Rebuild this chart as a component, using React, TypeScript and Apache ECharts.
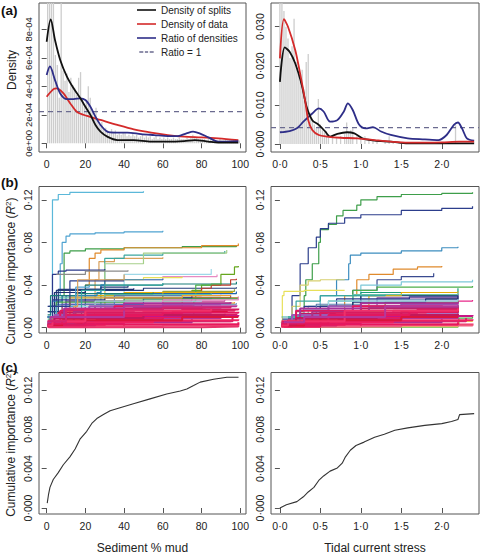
import React, { useEffect, useRef } from "react";
import * as echarts from "echarts";

const FONT = '"Liberation Sans", Arial, Helvetica, sans-serif';
const DOT = "\u00B7";

// ---------- Panel (a) left: sediment % mud (densities in units of 1e-4) ----------
const histMudHeights = [
  12, 12, 12, 12, 6.2, 5.5, 3.2, 12, 5.1, 4.4, 4.9, 3.6, 4.6, 4.1, 3.9, 3.4, 4.6, 5.0, 3.1, 2.6,
  2.9, 4.0, 3.2, 2.3, 1.9, 2.5, 1.6, 1.3, 1.5, 1.0, 1.1, 0.9, 0.8, 1.0, 0.7, 0.9, 0.6, 0.7, 0.6, 0.8,
  0.7, 0.5, 0.6, 0.5, 0.7, 0.5, 0.6, 0.4, 0.5, 0.6, 0.4, 0.5, 0.4, 0.5, 0.3, 0.4, 0.5, 0.3, 0.4, 0.3,
  0.4, 0.3, 0.4, 0.3, 0.3, 0.4, 0.3, 0.3, 0.4, 0.3, 0.3, 0.3, 0.4, 0.3, 0.5, 0.6, 0.5, 0.4, 0.3, 0.3,
  0.3, 0.3, 0.2, 0.3, 0.3, 0.2, 0.3, 0.2, 0.2, 0.3, 0.2, 0.2, 0.3, 0.2, 0.2, 0.2, 0.3, 0.2, 0.2, 0.2,
];
const mudSplits = [[0, 7.13], [2.1, 8.7], [4.3, 7.25], [7, 5.85], [10.4, 4.7], [13.9, 3.86], [17.4, 3.16], [20, 2.57], [22.6, 2.0], [25.2, 1.29], [27.8, 0.82], [31.3, 0.47], [36.5, 0.23], [45, 0.23], [54, 0.12], [62.6, 0.12], [71, 0.16], [76.5, 0.23], [83.5, 0.12], [88.7, 0.05], [99, 0.05]];
const mudData = [[0, 3.27], [3.5, 3.8], [5.2, 3.86], [8.7, 3.5], [12.2, 2.8], [15.7, 2.2], [20.9, 1.92], [27.8, 1.64], [36.5, 1.29], [45, 0.98], [54, 0.75], [62.6, 0.58], [71, 0.47], [80, 0.42], [88.7, 0.35], [99, 0.23]];
const mudRatio = [[0, 4.8], [1.7, 5.4], [4.3, 4.44], [7, 3.5], [10.4, 3.1], [13.9, 3.1], [17.4, 3.16], [20, 3.04], [22.6, 2.57], [25.2, 1.87], [27.8, 1.29], [31.3, 0.82], [35.6, 0.75], [41.7, 0.75], [48.7, 0.65], [55.6, 0.58], [62.6, 0.51], [67.8, 0.51], [72.2, 0.7], [75.6, 0.82], [79, 0.7], [83.5, 0.42], [88.7, 0.12], [99, 0.16]];
const mudRatioOne = 2.22;

// ---------- Panel (a) right: tidal current stress (densities in units of 1e-3) ----------
const histTideX = [0.0, 0.025, 0.05, 0.075, 0.1, 0.125, 0.15, 0.175, 0.2, 0.225, 0.25, 0.275, 0.3, 0.325, 0.35, 0.375, 0.4, 0.425, 0.45, 0.475, 0.5, 0.525, 0.55, 0.575, 0.6, 0.65, 0.7, 0.75, 0.8, 0.825, 0.85, 0.875, 0.9, 0.95, 1.0, 1.05, 1.1, 1.15, 1.2, 1.3, 1.35, 1.4, 1.5, 1.6, 1.75, 1.9, 2.0, 2.17, 2.3];
const histTideHeights = [40, 38, 34, 30, 27, 22, 25, 32, 21, 18, 16, 19, 14, 21, 23, 8, 6, 5, 4, 11.5, 5, 3.5, 3, 2.5, 2.5, 2, 1.5, 2, 2.5, 5.5, 3, 3.5, 4, 2, 1.5, 2, 1.2, 1, 0.8, 0.8, 2, 0.5, 0.5, 0.4, 0.3, 0.3, 0.3, 4.8, 0.3];
const tideSplits = [[0, 15.9], [0.06, 24.7], [0.12, 23.6], [0.19, 20.6], [0.27, 15.1], [0.33, 9.5], [0.4, 6.1], [0.48, 4.9], [0.56, 3.2], [0.62, 1.9], [0.71, 2.6], [0.83, 3.0], [0.92, 2.7], [1.02, 1.45], [1.17, 0.85], [1.37, 0.6], [1.58, 0.17], [2.0, 0.17], [2.4, 0.17]];
const tideData = [[0, 21.9], [0.05, 31.9], [0.1, 30], [0.19, 24], [0.25, 18], [0.31, 11.3], [0.35, 6.1], [0.4, 3.6], [0.48, 2.3], [0.58, 1.9], [0.75, 1.6], [0.96, 1.45], [1.17, 1.0], [1.37, 0.6], [1.58, 0.35], [1.79, 0.35], [2.0, 0.4], [2.21, 0.6], [2.4, 0.6]];
const tideRatio = [[0, 3.0], [0.12, 3.3], [0.21, 4.0], [0.29, 5.7], [0.4, 7.8], [0.48, 9.1], [0.54, 8.3], [0.62, 5.7], [0.71, 6.1], [0.79, 8.3], [0.84, 10.4], [0.9, 8.7], [0.98, 4.9], [1.06, 4.0], [1.15, 4.3], [1.25, 3.2], [1.37, 2.3], [1.58, 1.45], [1.79, 1.2], [1.96, 1.0], [2.06, 2.3], [2.15, 4.9], [2.2, 5.5], [2.25, 4.0], [2.31, 1.45], [2.4, 0.85]];
const tideRatioOne = 4.2;

// ---------- Panel (b) left: cumulative importance per species vs mud ----------
const bMudLines = [
  [[0.5, 0.005], [2, 0.02], [3, 0.12], [6, 0.125], [12, 0.127], [50, 0.128]],
  [[0.5, 0.01], [5, 0.03], [7, 0.06], [8, 0.08], [10, 0.086], [12, 0.088], [25, 0.089], [40, 0.09], [60, 0.091]],
  [[1, 0.01], [8, 0.03], [9, 0.07], [12, 0.072], [20, 0.074], [40, 0.075], [70, 0.076], [98, 0.077]],
  [[1, 0.005], [20, 0.04], [22, 0.065], [25, 0.07], [28, 0.073], [40, 0.075], [80, 0.077], [99, 0.079]],
  [[2, 0.01], [25, 0.045], [27, 0.062], [35, 0.065], [60, 0.066]],
  [[1, 0.005], [28, 0.04], [30, 0.065], [40, 0.068], [60, 0.07], [92, 0.072]],
  [[2, 0.01], [30, 0.06], [50, 0.07], [93, 0.073]],
  [[0.5, 0.02], [3, 0.05], [6, 0.053], [10, 0.054], [30, 0.055]],
  [[5, 0.05], [20, 0.053], [42, 0.054]],
  [[1, 0.01], [60, 0.03], [75, 0.035], [80, 0.04], [90, 0.05], [97, 0.057], [99, 0.058]],
  [[3, 0.02], [30, 0.045], [60, 0.048], [88, 0.05]],
  [[5, 0.02], [40, 0.05], [85, 0.055]],
  [[3, 0.02], [20, 0.04], [60, 0.041], [98, 0.043]],
  [[3, 0.015], [30, 0.045], [50, 0.047], [70, 0.048]],
  [[1, 0.02], [5, 0.035], [50, 0.037], [98, 0.038]],
  [[2, 0.01], [50, 0.015], [60, 0.02], [70, 0.025], [75, 0.03], [80, 0.037], [85, 0.04], [95, 0.045], [98, 0.046]],
  [[1, 0.015], [10, 0.03], [40, 0.032], [98, 0.034]],
  [[2, 0.01], [15, 0.03], [60, 0.034], [97, 0.036]],
  [[1, 0.01], [10, 0.025], [50, 0.028], [95, 0.03]],
  [[1, 0.01], [8, 0.022], [60, 0.025], [92, 0.026]],
  [[3, 0.01], [76, 0.025], [77, 0.04], [85, 0.041], [90, 0.042]],
  [[2, 0.01], [20, 0.02], [60, 0.023], [97, 0.024]],
  [[1, 0.005], [25, 0.02], [80, 0.022], [98, 0.023]],
  [[2, 0.008], [15, 0.018], [90, 0.02]],
  [[0.5, 0.01], [5, 0.022], [50, 0.027], [85, 0.028]],
  [[1, 0.005], [12, 0.03], [40, 0.033], [96, 0.034]],
  [[0.5, 0.008], [6, 0.028], [30, 0.031], [85, 0.032]],
  [[2, 0.005], [25, 0.025], [70, 0.028], [99, 0.029]],
  [[0.5, 0.01], [4, 0.033], [20, 0.036], [45, 0.037]],
  [[0.5, 0.01], [3, 0.025], [8, 0.03], [26, 0.033], [28, 0.04], [30, 0.045], [60, 0.046]],
  [[0.5, 0.01], [3, 0.026], [30, 0.028], [75, 0.029]],
  [[1, 0.008], [5, 0.024], [40, 0.027], [99, 0.027]],
  [[0.5, 0.012], [2, 0.03], [15, 0.032], [55, 0.033]],
  [[1, 0.006], [20, 0.022], [35, 0.03], [90, 0.031]],
  [[2, 0.01], [10, 0.02], [25, 0.025], [80, 0.026]],
  [[0.5, 0.015], [6, 0.036], [28, 0.038], [42, 0.04]],
  [[1, 0.005], [30, 0.018], [60, 0.026], [99, 0.029]],
  [[2, 0.01], [12, 0.028], [70, 0.03], [95, 0.031]],
  [[0.5, 0.01], [5, 0.02], [15, 0.038], [22, 0.04]],
  [[1, 0.01], [18, 0.035], [30, 0.04], [60, 0.042]],
  [[3, 0.02], [12, 0.044], [40, 0.044]],
  [[1, 0.005], [14, 0.02], [16, 0.045], [40, 0.05]],
];
const bMudColors = [
  "#5BB8D9", "#4FA3D1", "#3E9E4A", "#E08A2C", "#D9A05B", "#3BA6A0", "#A6D08A", "#2B3A8C", "#8A8A8A", "#66A61E",
  "#E78AC3", "#9ED8E8", "#1B7F7A", "#E8E05A", "#233B7A", "#C0392B", "#2166AC", "#9BA33A", "#7B3F9E", "#C2378F",
  "#4DAF4A", "#F0A030", "#5E7FB0", "#B07AC0", "#3060C0", "#E6AB02", "#66C2A5", "#A6761D", "#1F2F6F", "#2C7FB8",
  "#2B3A8C", "#3E9E4A", "#1B7F7A", "#5E7FB0", "#9ED8E8", "#233B7A", "#E78AC3", "#F0A030", "#4FA3D1", "#3BA6A0",
  "#2C3E8C", "#D9A05B",
];
const bMudLowLines = [
  [[0.5, 0.001], [10, 0.004], [40, 0.006], [95, 0.007]],
  [[0.5, 0.002], [5, 0.006], [30, 0.009], [90, 0.011]],
  [[1, 0.001], [20, 0.008], [60, 0.012], [98, 0.013]],
  [[0.5, 0.003], [8, 0.01], [40, 0.014], [85, 0.015]],
  [[1, 0.002], [15, 0.012], [50, 0.016], [97, 0.017]],
  [[0.5, 0.004], [6, 0.014], [30, 0.018], [80, 0.019]],
  [[1, 0.001], [3, 0.008], [25, 0.013], [70, 0.014]],
  [[0.5, 0.001], [40, 0.003], [99, 0.004]],
  [[0.5, 0.002], [12, 0.005], [75, 0.008]],
  [[2, 0.003], [18, 0.011], [65, 0.015], [93, 0.016]],
  [[0.5, 0.005], [4, 0.012], [22, 0.02], [60, 0.022], [90, 0.022]],
  [[1, 0.002], [30, 0.01], [88, 0.012]],
  [[0.5, 0.001], [60, 0.002], [99, 0.003]],
  [[1, 0.003], [10, 0.009], [50, 0.011], [99, 0.012]],
  [[0.5, 0.006], [7, 0.016], [35, 0.02], [75, 0.021]],
  [[1, 0.002], [25, 0.006], [96, 0.009]],
  [[0.5, 0.004], [14, 0.015], [45, 0.019], [82, 0.02]],
  [[1, 0.001], [5, 0.005], [55, 0.007], [99, 0.008]],
  [[0.5, 0.003], [20, 0.014], [70, 0.017], [99, 0.018]],
  [[1, 0.005], [9, 0.018], [40, 0.023], [95, 0.024]],
  [[0.5, 0.001], [20, 0.003], [99, 0.005]],
  [[0.5, 0.002], [8, 0.007], [70, 0.01], [99, 0.01]],
  [[0.5, 0.003], [4, 0.009], [50, 0.012], [92, 0.013]],
  [[1, 0.004], [10, 0.012], [60, 0.014], [99, 0.015]],
  [[0.5, 0.002], [3, 0.006], [20, 0.016], [85, 0.018]],
  [[0.5, 0.005], [2, 0.01], [40, 0.02], [98, 0.021]],
  [[1, 0.0005], [80, 0.001], [99, 0.002]],
  [[0.5, 0.006], [10, 0.017], [60, 0.019], [95, 0.02]],
];

// ---------- Panel (b) right: cumulative importance per species vs tidal stress ----------
const bTideLines = [
  [[0.05, 0.005], [0.2, 0.015], [0.3, 0.03], [0.32, 0.045], [0.4, 0.06], [0.48, 0.08], [0.5, 0.092], [0.6, 0.097], [0.7, 0.105], [0.78, 0.11], [0.95, 0.115], [1.0, 0.12], [1.2, 0.123], [1.5, 0.125], [2.0, 0.126], [2.38, 0.127]],
  [[0.08, 0.005], [0.15, 0.03], [0.25, 0.06], [0.35, 0.075], [0.45, 0.085], [0.5, 0.093], [0.6, 0.098], [0.8, 0.103], [1.0, 0.106], [1.5, 0.11], [2.0, 0.112], [2.38, 0.114]],
  [[0.1, 0.005], [0.5, 0.03], [0.7, 0.045], [0.85, 0.06], [0.87, 0.068], [1.0, 0.07], [1.5, 0.072], [2.0, 0.075], [2.2, 0.076]],
  [[0.1, 0.005], [0.8, 0.03], [0.95, 0.045], [1.1, 0.05], [1.4, 0.055], [1.7, 0.057], [2.0, 0.058]],
  [[0.2, 0.01], [0.9, 0.035], [1.2, 0.045], [1.5, 0.048], [1.9, 0.051]],
  [[0.01, 0.005], [0.03, 0.03], [0.05, 0.034], [0.3, 0.035], [0.8, 0.035]],
  [[0.02, 0.005], [0.15, 0.02], [0.25, 0.04], [0.35, 0.044], [0.5, 0.045], [0.8, 0.045]],
  [[0.1, 0.01], [0.5, 0.03], [1.0, 0.04], [1.5, 0.043], [2.38, 0.045]],
  [[0.05, 0.005], [0.5, 0.02], [0.9, 0.035], [1.2, 0.038], [2.38, 0.039]],
  [[0.1, 0.01], [0.6, 0.025], [1.0, 0.033], [2.2, 0.037]],
  [[0.05, 0.005], [0.5, 0.02], [1.0, 0.03], [2.2, 0.032]],
  [[0.05, 0.005], [0.4, 0.018], [1.2, 0.028], [2.2, 0.03]],
  [[0.05, 0.005], [1.0, 0.02], [2.2, 0.025], [2.38, 0.026]],
  [[0.05, 0.005], [0.6, 0.02], [1.5, 0.024], [2.2, 0.025]],
  [[0.1, 0.005], [1.0, 0.018], [2.2, 0.02]],
  [[0.1, 0.005], [0.8, 0.018], [2.2, 0.022]],
  [[0.05, 0.005], [0.6, 0.02], [1.1, 0.03], [1.5, 0.033], [2.2, 0.034]],
  [[0.05, 0.003], [0.7, 0.015], [1.3, 0.024], [2.2, 0.027]],
  [[0.05, 0.004], [0.35, 0.02], [0.9, 0.031], [2.2, 0.033]],
  [[0.05, 0.0005], [2.2, 0.002], [2.21, 0.009], [2.38, 0.01]],
  [[0.1, 0.001], [2.2, 0.003], [2.21, 0.006], [2.38, 0.007]],
  [[0.03, 0.008], [0.3, 0.02], [0.7, 0.027], [1.6, 0.029], [2.2, 0.03]],
  [[0.05, 0.006], [0.45, 0.022], [1.0, 0.026], [2.2, 0.028]],
  [[0.02, 0.01], [0.2, 0.025], [0.5, 0.03], [1.3, 0.031]],
  [[0.1, 0.008], [0.9, 0.024], [1.8, 0.027], [2.2, 0.029]],
  [[0.05, 0.004], [0.3, 0.017], [0.6, 0.025], [2.2, 0.027]],
];
const bTideColors = [
  "#3E9E4A", "#2C3E8C", "#3C8DBF", "#E08A2C", "#3A4A90", "#E8E05A", "#D8D070", "#7CC8D8", "#4DAF4A", "#1B9E77",
  "#23336E", "#7B3F9E", "#E7298A", "#2166AC", "#9BA33A", "#7A90B0", "#E6AB02", "#A6761D", "#66C2A5", "#4DAF4A",
  "#E8E05A", "#2B3A8C", "#5E7FB0", "#3BA6A0", "#1F2F6F", "#9ED8E8",
];
const bTideLowLines = [
  [[0.02, 0.001], [0.3, 0.004], [1.0, 0.006], [2.2, 0.007]],
  [[0.02, 0.002], [0.2, 0.006], [0.8, 0.009], [2.2, 0.011]],
  [[0.05, 0.001], [0.5, 0.008], [1.5, 0.012], [2.2, 0.013]],
  [[0.02, 0.003], [0.3, 0.01], [1.0, 0.014], [2.2, 0.015]],
  [[0.05, 0.002], [0.6, 0.012], [1.4, 0.016], [2.2, 0.017]],
  [[0.02, 0.004], [0.25, 0.013], [1.0, 0.018], [2.2, 0.019]],
  [[0.05, 0.001], [0.1, 0.007], [0.7, 0.013], [1.8, 0.014]],
  [[0.02, 0.001], [1.0, 0.003], [2.38, 0.004]],
  [[0.02, 0.002], [0.4, 0.005], [2.0, 0.008]],
  [[0.08, 0.003], [0.5, 0.011], [1.5, 0.015], [2.2, 0.016]],
  [[0.02, 0.005], [0.15, 0.012], [0.6, 0.02], [1.5, 0.022], [2.2, 0.022]],
  [[0.05, 0.002], [0.8, 0.01], [2.1, 0.012]],
  [[0.02, 0.001], [1.5, 0.002], [2.38, 0.003]],
  [[0.05, 0.003], [0.3, 0.009], [1.2, 0.011], [2.38, 0.012]],
  [[0.02, 0.006], [0.2, 0.016], [0.9, 0.02], [2.0, 0.021]],
  [[0.05, 0.002], [0.7, 0.006], [2.3, 0.009]],
  [[0.02, 0.004], [0.4, 0.015], [1.1, 0.019], [2.2, 0.02]],
  [[0.05, 0.001], [0.15, 0.005], [1.4, 0.007], [2.38, 0.008]],
  [[0.02, 0.003], [0.5, 0.014], [1.7, 0.017], [2.2, 0.018]],
  [[0.05, 0.005], [0.25, 0.018], [1.0, 0.023], [2.2, 0.024]],
  [[0.02, 0.001], [0.5, 0.003], [2.2, 0.005]],
  [[0.02, 0.002], [0.3, 0.007], [1.5, 0.01], [2.2, 0.01]],
  [[0.05, 0.003], [0.2, 0.009], [1.2, 0.012], [2.2, 0.013]],
  [[0.02, 0.004], [0.6, 0.012], [1.6, 0.015], [2.2, 0.015]],
  [[0.02, 0.002], [0.1, 0.006], [0.8, 0.016], [2.2, 0.018]],
  [[0.05, 0.005], [0.3, 0.01], [1.3, 0.02], [2.2, 0.021]],
];
const lowColors = [
  "#E3175E", "#B5379A", "#D81B60", "#8E44AD", "#E8336B", "#C2185B", "#E0457B", "#F0306A", "#A0309A", "#DC143C",
  "#9B59B6", "#E8175D", "#F06080", "#C71585", "#E3175E", "#D6246E", "#B03080", "#EE2060", "#D81B60", "#A83299",
  "#E8175D", "#DC143C", "#C2185B", "#E3175E", "#F0306A", "#B5379A", "#E8336B", "#D6246E",
];

// ---------- Panel (c): overall cumulative importance ----------
const cMud = [[0.3, 0.0005], [0.9, 0.0013], [1.7, 0.0021], [3.4, 0.0029], [6, 0.0036], [8.6, 0.0044], [12, 0.0052], [14.7, 0.006], [17.2, 0.007], [20.7, 0.0078], [23.3, 0.0086], [25.9, 0.0091], [29.3, 0.0095], [32.8, 0.0099], [37.9, 0.0102], [44.8, 0.0106], [53.4, 0.0111], [62, 0.0116], [69, 0.0119], [72.4, 0.0121], [75.9, 0.01245], [79.3, 0.0128], [86.2, 0.0131], [93.1, 0.0133], [99.1, 0.0133]];
const cTide = [[0, 0.0], [0.08, 0.00033], [0.21, 0.00065], [0.29, 0.00114], [0.35, 0.00163], [0.42, 0.0021], [0.48, 0.0028], [0.54, 0.00326], [0.62, 0.00375], [0.71, 0.00408], [0.77, 0.00456], [0.81, 0.0052], [0.87, 0.00587], [0.94, 0.00636], [1.04, 0.0067], [1.17, 0.0072], [1.29, 0.0075], [1.42, 0.0079], [1.58, 0.00815], [1.79, 0.0084], [2.0, 0.00858], [2.12, 0.0088], [2.2, 0.009], [2.22, 0.0095], [2.4, 0.0096]];

// ---------- Axis ticks ----------
const mudTicks = [0, 20, 40, 60, 80, 100];
const tideTicks = [0, 0.5, 1, 1.5, 2];
const aMudYTicks = [0, 2e-4, 4e-4, 6e-4, 8e-4];
const aTideYTicks = [0, 0.01, 0.02, 0.03];
const bYTicks = [0, 0.04, 0.08, 0.12];
const cYTicks = [0, 0.004, 0.008, 0.012];

const legendNames = ["Density of splits", "Density of data", "Ratio of densities", "Ratio = 1"];
const densityTitle = "Density";
const importanceTitle = "{n|Cumulative importance (}{i|R}{s|2}{n|)}";

const AX = "#555555";
const TXT = "#222222";
const TICK_FS = 10.5;

const titleRich = {
  n: { fontSize: 12, fontFamily: FONT, color: TXT },
  i: { fontSize: 12, fontFamily: FONT, fontStyle: "italic", color: TXT },
  s: { fontSize: 8, fontFamily: FONT, color: TXT, padding: [0, 0, 6, 0] },
};

function xAxisCfg(gridIndex: number, min: number, max: number, ticks: number[], fmt: (v: number) => string, name?: string) {
  return {
    type: "value", gridIndex, min, max,
    axisLine: { show: false },
    splitLine: { show: false },
    axisTick: { show: true, length: 5, customValues: ticks, lineStyle: { color: AX } },
    axisLabel: { customValues: ticks, formatter: fmt, fontSize: TICK_FS, fontFamily: FONT, color: TXT, margin: 6, showMinLabel: true, showMaxLabel: true, hideOverlap: false },
    name: name || "",
    nameLocation: "middle",
    nameGap: 28,
    nameTextStyle: { fontSize: 12, fontFamily: FONT, color: TXT },
  };
}
function yAxisCfg(gridIndex: number, min: number, max: number, ticks: number[], fmt: (v: number) => string, fs = TICK_FS, name = "") {
  return {
    type: "value", gridIndex, min, max,
    axisLine: { show: false },
    splitLine: { show: false },
    axisTick: { show: true, length: 5, customValues: ticks, lineStyle: { color: AX } },
    axisLabel: { customValues: ticks, formatter: fmt, rotate: 90, fontSize: fs, fontFamily: FONT, color: TXT, margin: 6, showMinLabel: true, showMaxLabel: true, hideOverlap: false },
    name,
    nameLocation: "middle",
    nameGap: 21,
    nameTextStyle: { fontSize: 12, fontFamily: FONT, color: TXT, rich: titleRich },
  };
}
// axes of a hidden helper grid that only carries a y title
function titleOnlyX(gridIndex: number) {
  return { type: "value", gridIndex, show: false, min: 0, max: 1 };
}
function titleOnlyY(gridIndex: number, name: string) {
  return {
    type: "value", gridIndex, min: 0, max: 1,
    axisLine: { show: false }, axisTick: { show: false }, axisLabel: { show: false }, splitLine: { show: false },
    name, nameLocation: "middle", nameGap: 21,
    nameTextStyle: { fontSize: 12, fontFamily: FONT, color: TXT, rich: titleRich },
  };
}

const dec = (d: number) => (v: number) => v.toFixed(d).replace(".", DOT);
const sci = (v: number) => (Math.abs(v) < 1e-12 ? "0e+00" : Math.round(v * 1e4) + "e-04");

export default function App() {
  const ref = useRef<HTMLDivElement>(null);
  useEffect(() => {
    document.body.style.margin = "0";
    if (!ref.current) return;
    const chart = echarts.init(ref.current, null, { renderer: "svg" });

    const grids: any[] = [
      { left: 39, top: 3, width: 207, height: 149 },
      { left: 271, top: 3, width: 208, height: 149 },
      { left: 39, top: 186.5, width: 207, height: 146.5 },
      { left: 271, top: 186.5, width: 208, height: 146.5 },
      { left: 39, top: 372.5, width: 207, height: 147 },
      { left: 271, top: 372.5, width: 208, height: 147 },
    ].map((g) => ({ ...g, show: true, borderColor: AX, borderWidth: 1, backgroundColor: "transparent" }));
    // helper grids (invisible) that centre the y titles of (a) and (b)
    grids.push({ left: 39, top: 3, width: 207, height: 134, show: false });
    grids.push({ left: 39, top: 196, width: 207, height: 150, show: false });

    const mudMin = -3.96, mudMax = 102.96, tideMin = -0.11, tideMax = 2.46;

    const xAxes = [
      xAxisCfg(0, mudMin, mudMax, mudTicks, (v) => String(v)),
      xAxisCfg(1, tideMin, tideMax, tideTicks, dec(1)),
      xAxisCfg(2, mudMin, mudMax, mudTicks, (v) => String(v)),
      xAxisCfg(3, tideMin, tideMax, tideTicks, dec(1)),
      xAxisCfg(4, mudMin, mudMax, mudTicks, (v) => String(v), "Sediment % mud"),
      xAxisCfg(5, tideMin, tideMax, tideTicks, dec(1), "Tidal current stress"),
      titleOnlyX(6),
      titleOnlyX(7),
    ];
    const yAxes = [
      yAxisCfg(0, -6.1e-5, 9.85e-4, aMudYTicks, sci, 9.5),
      yAxisCfg(1, -0.00205, 0.03606, aTideYTicks, dec(3)),
      yAxisCfg(2, -0.005, 0.1325, bYTicks, dec(2)),
      yAxisCfg(3, -0.005, 0.1325, bYTicks, dec(2)),
      yAxisCfg(4, -0.00061, 0.01378, cYTicks, dec(3), TICK_FS, importanceTitle),
      yAxisCfg(5, -0.00061, 0.01378, cYTicks, dec(3)),
      titleOnlyY(6, densityTitle),
      titleOnlyY(7, importanceTitle),
    ];

    const sc = (pts: number[][], f: number) => pts.map((p) => [p[0], p[1] * f]);
    const curve = (name: string, data: number[][], idx: number, color: string, width = 1.8, dashed = false) => ({
      type: "line", name, xAxisIndex: idx, yAxisIndex: idx, data,
      symbol: "none", smooth: dashed ? false : 0.3, clip: true, silent: true,
      lineStyle: { color, width, type: dashed ? [5, 4] : "solid" },
      itemStyle: { color },
    });
    const step = (name: string, pts: number[][], idx: number, color: string, width: number) => ({
      type: "line", name, xAxisIndex: idx, yAxisIndex: idx, data: pts, step: "end",
      symbol: "none", silent: true, clip: true, lineStyle: { color, width },
    });

    const series: any[] = [];
    // (a) left
    series.push({
      type: "bar", name: "histMud", xAxisIndex: 0, yAxisIndex: 0, silent: true, clip: true,
      data: histMudHeights.map((h, i) => [i + 0.5, h * 1e-4]), barWidth: 1.3,
      itemStyle: { color: "#cdcdcd" },
    });
    series.push(curve("Ratio = 1", [[mudMin, mudRatioOne * 1e-4], [mudMax, mudRatioOne * 1e-4]], 0, "#6b6b90", 1.3, true));
    series.push(curve("Density of data", sc(mudData, 1e-4), 0, "#d42a2a"));
    series.push(curve("Ratio of densities", sc(mudRatio, 1e-4), 0, "#2e2e88"));
    series.push(curve("Density of splits", sc(mudSplits, 1e-4), 0, "#111111"));
    // (a) right
    series.push({
      type: "bar", name: "histTide", xAxisIndex: 1, yAxisIndex: 1, silent: true, clip: true,
      data: histTideX.map((x, i) => [x, histTideHeights[i] * 1e-3]), barWidth: 1.3,
      itemStyle: { color: "#cdcdcd" },
    });
    series.push(curve("Ratio = 1", [[tideMin, tideRatioOne * 1e-3], [tideMax, tideRatioOne * 1e-3]], 1, "#6b6b90", 1.3, true));
    series.push(curve("Ratio of densities", sc(tideRatio, 1e-3), 1, "#2e2e88"));
    series.push(curve("Density of splits", sc(tideSplits, 1e-3), 1, "#111111"));
    series.push(curve("Density of data", sc(tideData, 1e-3), 1, "#d42a2a"));
    // (b)
    bMudLines.forEach((pts, i) => series.push(step("mud" + i, pts, 2, bMudColors[i % bMudColors.length], 1.2)));
    bMudLowLines.forEach((pts, i) => series.push(step("mudLow" + i, pts, 2, lowColors[i % lowColors.length], 2)));
    bTideLines.forEach((pts, i) => series.push(step("tide" + i, pts, 3, bTideColors[i % bTideColors.length], 1.2)));
    bTideLowLines.forEach((pts, i) => series.push(step("tideLow" + i, pts, 3, lowColors[i % lowColors.length], 2)));
    // (c)
    series.push({ type: "line", name: "cMud", xAxisIndex: 4, yAxisIndex: 4, data: cMud, symbol: "none", silent: true, lineStyle: { color: "#333", width: 1.1 } });
    series.push({ type: "line", name: "cTide", xAxisIndex: 5, yAxisIndex: 5, data: cTide, symbol: "none", silent: true, lineStyle: { color: "#333", width: 1.1 } });

    const plabel = (y: number, text: string) => ({
      type: "text", x: 1, y, silent: true,
      style: { text, fontSize: 13.5, fontWeight: "bold", fontFamily: FONT, fill: "#111", align: "left", verticalAlign: "middle" },
    });

    const lineIcon = "rect";
    const dashIcon = "path://M0,0h5v2h-5zM7,0h4v2h-4zM13,0h5v2h-5z";

    chart.setOption({
      animation: false,
      backgroundColor: "#ffffff",
      grid: grids,
      xAxis: xAxes,
      yAxis: yAxes,
      legend: {
        data: legendNames.map((n, i) => ({ name: n, icon: i === 3 ? dashIcon : lineIcon })),
        orient: "vertical", left: 137, top: 4, padding: 0,
        itemWidth: 19, itemHeight: 1.6, itemGap: 2, selectedMode: false,
        textStyle: { fontSize: 10, lineHeight: 12, fontFamily: FONT, color: TXT },
      },
      graphic: [plabel(10, "(a)"), plabel(182, "(b)"), plabel(367, "(c)")],
      series,
    });
    return () => chart.dispose();
  }, []);
  return <div ref={ref} style={{ width: 480, height: 555 }} />;
}
